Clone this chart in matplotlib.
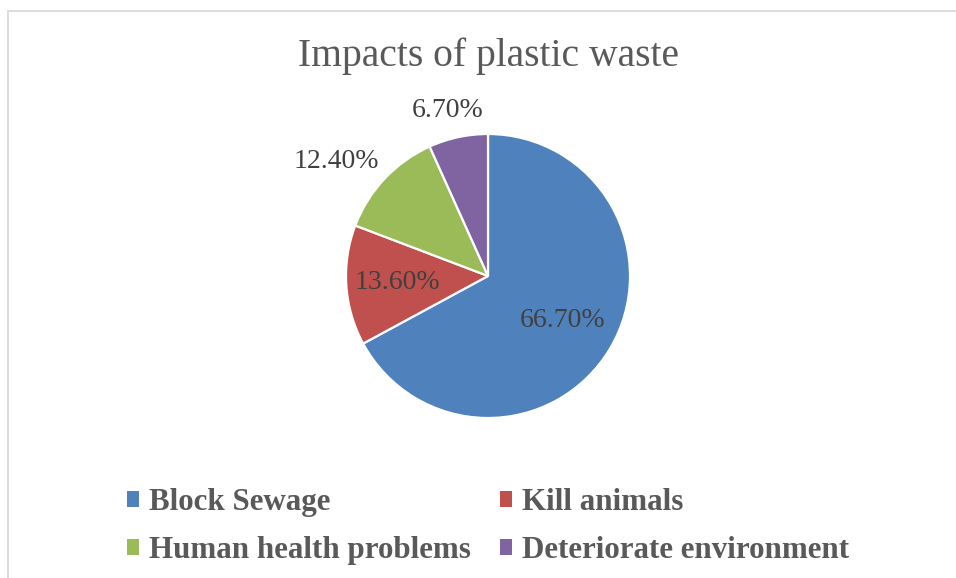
import matplotlib
matplotlib.use("Agg")
import matplotlib.pyplot as plt
from matplotlib.patches import Patch, Rectangle
import numpy as np

# Data
categories = ["Block Sewage", "Kill animals", "Human health problems", "Deteriorate environment"]
values = [66.7, 13.6, 12.4, 6.7]
colors = ["#4F81BD", "#C0504D", "#9BBB59", "#8064A2"]
title = "Impacts of plastic waste"

W, H = 956, 578
fig = plt.figure(figsize=(W / 100, H / 100), dpi=100)
fig.patch.set_facecolor("white")

serif = ["Liberation Serif", "DejaVu Serif"]

# Chart area border
fig.patches.append(Rectangle((8 / W, -0.05), 1.2, (H - 11) / H + 0.05,
                             transform=fig.transFigure, fill=False,
                             edgecolor="#D9D9D9", linewidth=1.3))

# Pie axes
cx, cy, r = 488, 276, 142
ax = fig.add_axes([(cx - r) / W, (H - cy - r) / H, 2 * r / W, 2 * r / H])
wedges, _ = ax.pie(values, colors=colors, startangle=90, counterclock=False,
                   wedgeprops=dict(edgecolor="white", linewidth=1.6))
ax.set_xlim(-1, 1)
ax.set_ylim(-1, 1)
ax.set_aspect("equal")
ax.axis("off")

# Data labels: inside for large slices, outside for small ones
placements = [
    dict(dist=0.61, ha="center", va="center", dx=0),
    dict(dist=0.64, ha="center", va="center", dx=0),
    dict(dist=1.05, ha="right", va="bottom", dx=0),
    dict(dist=1.10, ha="center", va="bottom", dx=-0.055),
]
for w, v, p in zip(wedges, values, placements):
    ang = np.deg2rad((w.theta1 + w.theta2) / 2)
    ax.text(p["dist"] * np.cos(ang) + p["dx"], p["dist"] * np.sin(ang),
            f"{v:.2f}%", ha=p["ha"], va=p["va"], fontsize=20, family=serif,
            color="#404040", clip_on=False)

# Title
fig.text(cx / W, (H - 66) / H, title, ha="center", va="baseline",
         fontsize=28.5, family=serif, color="#595959")

# Legend (two columns, row-wise order)
order = [0, 2, 1, 3]
handles = [Patch(facecolor=colors[i], edgecolor="none") for i in order]
labels = [categories[i] for i in order]
leg = fig.legend(handles, labels, ncol=2, loc="upper left",
                 bbox_to_anchor=(127 / W, (H - 488) / H),
                 frameon=False, handlelength=0.4, handleheight=0.4,
                 handletextpad=0.3, columnspacing=0.95, labelspacing=0.62,
                 borderpad=0, borderaxespad=0,
                 prop=dict(family=serif, weight="bold", size=22.3))
for t in leg.get_texts():
    t.set_color("#595959")

fig.savefig("out.png", dpi=100, facecolor="white")
